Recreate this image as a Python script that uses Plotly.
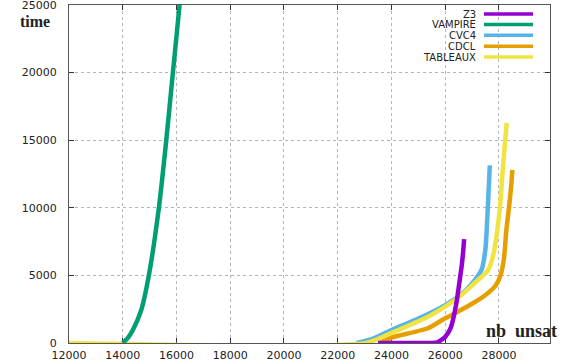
import plotly.graph_objects as go

# ---- data ----
series_names = ["Z3", "VAMPIRE", "CVC4", "CDCL", "TABLEAUX"]
series_colors = ["#9400d3", "#009e73", "#56b4e9", "#e69f00", "#f0e442"]

z3_x = [23500, 25300, 25700, 26000, 26200, 26300, 26420, 26530, 26620, 26670, 26705]
z3_y = [0, 0, 50, 450, 1100, 1800, 3000, 4500, 5800, 6800, 7680]

vampire_x = [14000, 14200, 14376, 14689, 14972, 15345, 15620, 15866, 16115]
vampire_y = [0, 400, 960, 2440, 5000, 10000, 15000, 20000, 25000]

cvc4_x = [22700, 23300, 24000, 25000, 26000, 26600, 27000, 27350, 27500, 27560, 27610, 27660]
cvc4_y = [0, 300, 960, 1800, 2800, 3600, 4400, 5400, 7000, 9000, 11000, 13130]

cdcl_x = [23565, 24000, 25360, 26000, 26500, 27000, 27500, 27845, 28000, 28100, 28190, 28276, 28373, 28450, 28500]
cdcl_y = [0, 400, 1090, 1830, 2350, 2900, 3550, 4170, 4700, 5300, 6300, 8370, 10000, 11500, 12800]

tableaux_x = [12000, 23070, 24000, 25360, 26000, 26605, 27100, 27600, 27800, 27940, 28037, 28150, 28288]
tableaux_y = [0, 0, 750, 1950, 2690, 3555, 4440, 5400, 6600, 8370, 10000, 13000, 16270]

x_ticks = [12000, 14000, 16000, 18000, 20000, 22000, 24000, 26000, 28000]
y_ticks = [0, 5000, 10000, 15000, 20000, 25000]

data = {
    "Z3": (z3_x, z3_y),
    "VAMPIRE": (vampire_x, vampire_y),
    "CVC4": (cvc4_x, cvc4_y),
    "CDCL": (cdcl_x, cdcl_y),
    "TABLEAUX": (tableaux_x, tableaux_y),
}
color_of = dict(zip(series_names, series_colors))

fig = go.Figure()
draw_order = ["CVC4", "CDCL", "TABLEAUX", "VAMPIRE", "Z3"]
for name in draw_order:
    xs, ys = data[name]
    fig.add_trace(go.Scatter(x=xs, y=ys, mode="lines", name=name,
                             line=dict(color=color_of[name], width=4.5,
                                       shape="spline", smoothing=0.6),
                             showlegend=False))

W, H = 576, 364
L, R, T, B = 69, 26, 5, 21
pw, ph = W - L - R, H - T - B

def px2paper(px, py):
    return (px - L) / pw, (H - B - py) / ph

tick_font = dict(family="DejaVu Sans", size=11, color="#222222")
axis_common = dict(showline=True, linecolor="#555555", linewidth=1, mirror="ticks",
                   ticks="inside", ticklen=5, tickcolor="#333333", tickwidth=1,
                   showgrid=True, gridcolor="#b5b5b5", griddash="dot", gridwidth=1,
                   zeroline=False, tickfont=tick_font, layer="below traces",
                   automargin=False, ticklabeloverflow="allow")

fig.update_layout(
    width=W, height=H,
    margin=dict(l=L, r=R, t=T, b=B, autoexpand=False),
    paper_bgcolor="white", plot_bgcolor="white",
    xaxis=dict(range=[12000, 29900], tickvals=x_ticks,
               ticktext=[str(v) for v in x_ticks], ticklabelstandoff=2, **axis_common),
    yaxis=dict(range=[0, 25000], tickvals=y_ticks,
               ticktext=[str(v) for v in y_ticks], ticklabelstandoff=9, **axis_common),
)

annotations = []
# axis labels
x0, y0 = px2paper(35, 21)
annotations.append(dict(text="<b>time</b>", x=x0, y=y0, xref="paper", yref="paper",
                        showarrow=False, xanchor="center", yanchor="middle", borderpad=0,
                        font=dict(family="Liberation Serif", size=16, color="#222222")))
x0, y0 = px2paper(521, 331)
annotations.append(dict(text="<b>nb\u00a0\u00a0unsat</b>", x=x0, y=y0, xref="paper", yref="paper",
                        showarrow=False, xanchor="center", yanchor="middle",
                        font=dict(family="Liberation Serif", size=18, color="#222222")))

# manual key (gnuplot style: text right-aligned, sample to the right)
rows_py = [14, 24.6, 35.3, 46.3, 57]
shapes = []
for name, py in zip(series_names, rows_py):
    tx, ty = px2paper(477, py)
    annotations.append(dict(text=name, x=tx, y=ty, xref="paper", yref="paper",
                            showarrow=False, xanchor="right", yanchor="middle",
                            borderpad=0,
                            font=dict(family="DejaVu Sans", size=10, color="#222222")))
    lx0, ly = px2paper(484, py)
    lx1, _ = px2paper(533, py)
    shapes.append(dict(type="line", xref="paper", yref="paper", x0=lx0, x1=lx1,
                       y0=ly, y1=ly, line=dict(color=color_of[name], width=3.5)))

fig.update_layout(annotations=annotations, shapes=shapes)
fig.write_html("out.html", config={"displayModeBar": False},
               post_script="document.body.style.margin='0';document.body.style.overflow='hidden';")
